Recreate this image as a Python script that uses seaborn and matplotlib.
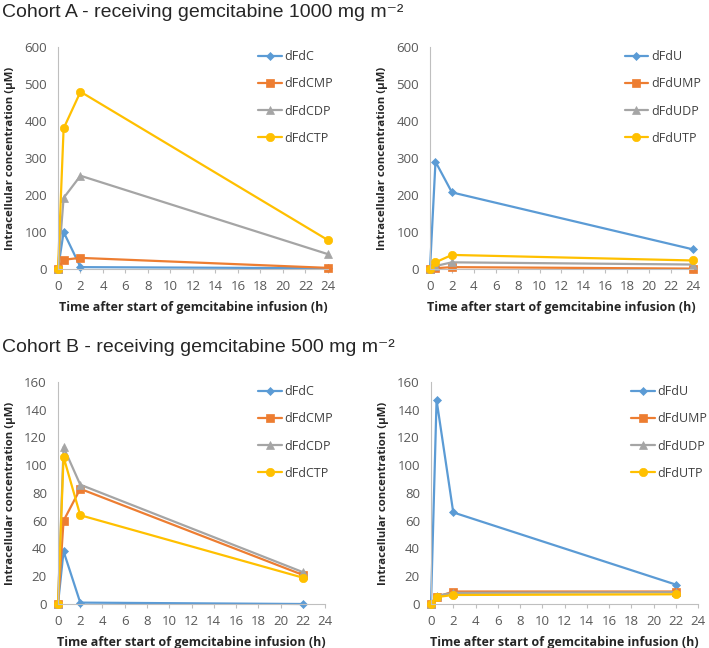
import matplotlib
matplotlib.use("Agg")
import matplotlib.pyplot as plt
import seaborn as sns
import pandas as pd

# sample times (h)
times_a = [0, 0.5, 2, 24]
times_b = [0, 0.5, 2, 22]

# Cohort A - dFdC and metabolites
names_c = ["dFdC", "dFdCMP", "dFdCDP", "dFdCTP"]
a_dfdc = [0, 100, 5, 2]
a_dfdcmp = [0, 25, 30, 3]
a_dfdcdp = [0, 192, 252, 40]
a_dfdctp = [0, 380, 479, 78]

# Cohort A - dFdU and metabolites
names_u = ["dFdU", "dFdUMP", "dFdUDP", "dFdUTP"]
a_dfdu = [0, 290, 207, 53]
a_dfdump = [0, 2, 5, 1]
a_dfdudp = [0, 8, 18, 12]
a_dfdutp = [0, 18, 38, 23]

# Cohort B - dFdC and metabolites
b_dfdc = [0, 38, 1, 0]
b_dfdcmp = [0, 60, 83, 21]
b_dfdcdp = [0, 113, 86, 23]
b_dfdctp = [0, 106, 64, 19]

# Cohort B - dFdU and metabolites
b_dfdu = [0, 147, 66, 14]
b_dfdump = [0, 5, 9, 9]
b_dfdudp = [0, 6, 8, 8.5]
b_dfdutp = [0, 5, 6.5, 7]

colors = ["#5B9BD5", "#ED7D31", "#A5A5A5", "#FFC000"]
markers = ["D", "s", "^", "o"]
msizes = [4, 5.5, 5.5, 6]

sns.set_style("white")
plt.rcParams["font.family"] = ["Open Sans", "DejaVu Sans"]

fig = plt.figure(figsize=(7.09, 6.48), dpi=100)

panels = [
    ([0.0818, 0.5849, 0.3808, 0.3426], times_a, names_c, [a_dfdc, a_dfdcmp, a_dfdcdp, a_dfdctp], 600, 100, 0.74),
    ([0.6065, 0.5849, 0.3709, 0.3426], times_a, names_u, [a_dfdu, a_dfdump, a_dfdudp, a_dfdutp], 600, 100, 0.74),
    ([0.0818, 0.0679, 0.3766, 0.3426], times_b, names_c, [b_dfdc, b_dfdcmp, b_dfdcdp, b_dfdctp], 160, 20, 0.75),
    ([0.6079, 0.0679, 0.3766, 0.3426], times_b, names_u, [b_dfdu, b_dfdump, b_dfdudp, b_dfdutp], 160, 20, 0.75),
]

for rect, times, names, series, ymax, ystep, lx in panels:
    ax = fig.add_axes(rect)
    for name, vals, c, m, ms in zip(names, series, colors, markers, msizes):
        df = pd.DataFrame({"t": times, "v": vals})
        sns.lineplot(data=df, x="t", y="v", ax=ax, color=c, marker=m, markersize=ms,
                     markeredgecolor=c, markeredgewidth=0.5, linewidth=1.6, label=name)
    for ln in ax.lines:
        ln.set_clip_on(False)
    ax.set_xlim(0, 24)
    ax.set_ylim(0, ymax)
    ax.set_xticks(range(0, 25, 2))
    ax.set_yticks(range(0, ymax + 1, ystep))
    ax.tick_params(labelsize=9.5, colors="#595959", length=3, width=0.8,
                   direction="out", left=False, bottom=True)
    ax.tick_params(axis="x", color="#BFBFBF", pad=5)
    ax.tick_params(axis="y", pad=5)
    for s in ["top", "right"]:
        ax.spines[s].set_visible(False)
    for s in ["left", "bottom"]:
        ax.spines[s].set_color("#BFBFBF")
        ax.spines[s].set_linewidth(0.8)
    ax.set_xlabel("Time after start of gemcitabine infusion (h)", fontsize=9,
                  fontweight="bold", color="#262626", labelpad=6)
    ax.set_ylabel("Intracellular concentration (\u00b5M)", fontsize=8.2,
                  fontweight="bold", color="#262626", labelpad=6)
    leg = ax.legend(loc="upper left", bbox_to_anchor=(lx, 0.985), frameon=False,
                    fontsize=9, labelspacing=1.13, handlelength=1.9,
                    handletextpad=0.2, borderpad=0, borderaxespad=0)
    for t in leg.get_texts():
        t.set_color("#404040")

fig.text(0.003, 0.981, "Cohort A - receiving gemcitabine 1000 mg m\u207b\u00b2",
         fontsize=14, va="center", ha="left", family=["Liberation Sans", "DejaVu Sans"])
fig.text(0.003, 0.463, "Cohort B - receiving gemcitabine 500 mg m\u207b\u00b2",
         fontsize=14, va="center", ha="left", family=["Liberation Sans", "DejaVu Sans"])

fig.savefig("out.png", dpi=100)
